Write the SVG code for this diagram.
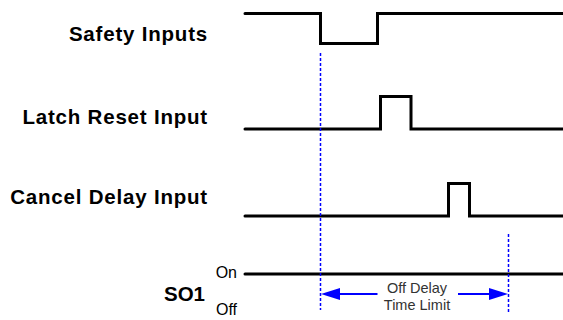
<svg xmlns="http://www.w3.org/2000/svg" width="563" height="320" viewBox="0 0 563 320">
<defs>
<style>
.lbl{font-family:"Liberation Sans",Arial,sans-serif;font-weight:bold;font-size:20.5px;letter-spacing:0.8px;fill:#000;text-anchor:end}
.so{font-family:"Liberation Sans",Arial,sans-serif;font-weight:bold;font-size:20.5px;fill:#000;text-anchor:end}
.st{font-family:"Liberation Sans",Arial,sans-serif;font-size:16px;fill:#000;text-anchor:end}
.note{font-family:"Liberation Sans",Arial,sans-serif;font-size:14.5px;fill:#333;text-anchor:middle}
.wave{fill:none;stroke:#000;stroke-width:3;stroke-linejoin:miter;stroke-linecap:round}
.dot{stroke:#0000ff;stroke-width:1.5;stroke-dasharray:3 2;fill:none}
.arr{stroke:#0000ff;stroke-width:2;fill:none;marker-end:url(#ah)}
</style>
<marker id="ah" markerUnits="userSpaceOnUse" markerWidth="19" markerHeight="12" refX="10" refY="6" orient="auto">
<path d="M0,0 L19,6 L0,12 z" fill="#0000ff"/>
</marker>
</defs>
<rect width="563" height="320" fill="#fff"/>
<g id="safety-inputs">
<text class="lbl" x="208" y="41">Safety Inputs</text>
<path class="wave" d="M245,13.5 H320.5 V43.5 H377.5 V13.5 H565"/>
</g>
<g id="latch-reset-input">
<text class="lbl" x="208" y="124">Latch Reset Input</text>
<path class="wave" d="M245,129 H380.5 V96.5 H411 V129 H565"/>
</g>
<g id="cancel-delay-input">
<text class="lbl" x="208" y="204">Cancel Delay Input</text>
<path class="wave" d="M245,216 H448.5 V183.5 H469.5 V216 H565"/>
</g>
<g id="so1">
<text class="so" x="205" y="300.5">SO1</text>
<text class="st" x="237" y="278">On</text>
<text class="st" x="237" y="315">Off</text>
<path class="wave" d="M245,274 H565"/>
</g>
<g id="connectors">
<line class="dot" x1="320.5" y1="53" x2="320.5" y2="310"/>
<line class="dot" x1="508.5" y1="234" x2="508.5" y2="312"/>
<line class="arr" x1="377.5" y1="294" x2="330" y2="294"/>
<line class="arr" x1="458" y1="294" x2="499" y2="294"/>
<text class="note" x="417" y="292.5">Off Delay</text>
<text class="note" x="417" y="310">Time Limit</text>
</g>
</svg>
